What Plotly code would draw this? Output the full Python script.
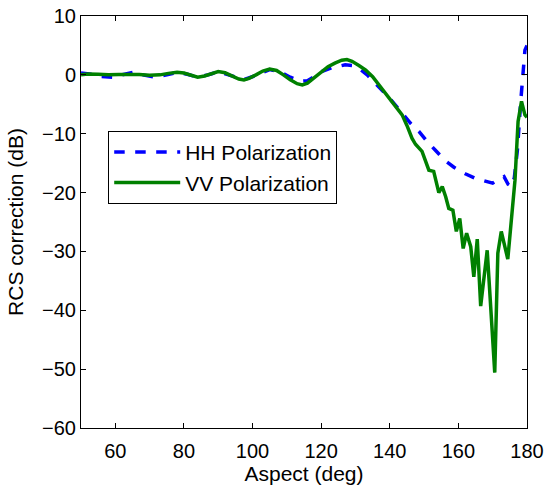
import plotly.graph_objects as go

# HH polarization (dashed blue)
hh_deg = [50, 53, 56, 59.4, 62, 65.3, 68, 71.6, 75, 78.4, 81, 84, 87, 90, 93, 97.4,
          101, 105, 108, 111, 114, 116, 118, 120, 123, 127, 129, 131, 133.4, 136, 138,
          140, 143.6, 146, 148.5, 151, 153.3, 156, 158.7, 162, 165, 168, 170, 171.3,
          173.3, 174.5, 175.5, 176.3, 177.2, 178.2, 178.6, 179.4, 180]
hh_db = [0.3, 0.1, -0.3, -0.4, 0.0, 0.45, 0.0, -0.4, 0.0, 0.45, 0.1, -0.4, 0.0, 0.5, 0.0, -0.8,
         -0.1, 0.9, 0.5, -0.4, -1.1, -1.0, -0.3, 0.5, 1.2, 1.7, 1.6, 1.1, 0.0, -1.5, -2.8,
         -4.0, -6.5, -8.2, -9.6, -11.4, -12.8, -14.5, -15.7, -16.8, -17.6, -18.1, -18.4, -17.9,
         -17.3, -18.6, -19.0, -17.5, -12.8, -4.3, -0.9, 4.2, 5.0]

# VV polarization (solid green)
vv_deg = [50, 52, 55, 58, 61, 64, 67, 70, 73, 75.5, 78, 80, 82, 84, 86, 88, 90, 92, 94, 96,
          97.5, 99, 101, 103, 105, 107, 109, 111, 113, 114.5, 116, 118, 120, 122, 124, 126,
          127.5, 129, 131, 133, 135, 137, 139, 141, 143.6, 145, 146.5, 147.5, 149.4, 151.4,
          152.8, 154.3, 155.3, 156.3, 157.2, 158.4, 159.4, 160.4, 161.4, 162.4, 163.6, 164.5,
          165.5, 166.5, 168.4, 170.6, 171.5, 172.5, 174.4, 176.5, 177.4, 178.4, 179.4, 180]
vv_db = [0.0, 0.15, 0.1, 0.0, 0.05, 0.1, 0.05, -0.05, 0.0, 0.25, 0.45, 0.3, -0.1, -0.4, -0.2,
         0.2, 0.55, 0.35, -0.2, -0.7, -0.85, -0.6, 0.0, 0.65, 1.0, 0.75, 0.0, -0.85, -1.5, -1.7,
         -1.4, -0.5, 0.5, 1.4, 2.0, 2.5, 2.6, 2.3, 1.6, 0.8, -0.3, -1.8, -3.3, -4.9, -6.8, -8.6,
         -10.8, -11.8, -13.0, -16.2, -16.4, -20.0, -19.0, -20.7, -22.7, -23.0, -26.6, -24.4,
         -29.5, -26.9, -29.2, -34.3, -27.9, -39.3, -29.8, -50.6, -30.3, -26.6, -31.3, -17.9,
         -7.9, -4.5, -6.8, -7.2]

x_ticks = [60, 80, 100, 120, 140, 160, 180]
y_ticks = [10, 0, -10, -20, -30, -40, -50, -60]

FONT = "Liberation Sans, Arial, Helvetica, sans-serif"

fig = go.Figure()
fig.add_trace(go.Scatter(x=hh_deg, y=hh_db, mode="lines", name="HH Polarization",
                         legendgroup="hh",
                         line=dict(color="#0000FF", width=3.5, dash="dash")))
fig.add_trace(go.Scatter(x=vv_deg, y=vv_db, mode="lines", name="VV Polarization",
                         legendgroup="vv",
                         line=dict(color="#008000", width=3.5)))

axis_common = dict(showline=True, linecolor="black", linewidth=1, mirror="ticks",
                   ticks="inside", ticklen=5, tickcolor="black", showgrid=False,
                   zeroline=False, automargin=False, ticklabeloverflow="allow",
                   tickfont=dict(family=FONT, size=20, color="black"))

fig.update_xaxes(range=[50, 180], tickvals=x_ticks, ticklabelstandoff=5,
                 title=dict(text="Aspect (deg)", font=dict(family=FONT, size=21, color="black"),
                            standoff=0),
                 **axis_common)
fig.update_yaxes(range=[-60, 10], tickvals=y_ticks,
                 title=dict(text="RCS correction (dB)", font=dict(family=FONT, size=21, color="black"),
                            standoff=12),
                 **axis_common)

fig.update_layout(
    width=546, height=487,
    margin=dict(l=81, r=19, t=16, b=59),
    plot_bgcolor="white", paper_bgcolor="white",
    font=dict(family=FONT, size=20, color="black"),
    legend=dict(x=0.061, y=0.721, xanchor="left", yanchor="top",
                bgcolor="white", bordercolor="black", borderwidth=1,
                font=dict(family=FONT, size=21, color="black"),
                itemwidth=66,
                traceorder="grouped", tracegroupgap=0),
    showlegend=True,
)

# remove the browser's default 8px body margin so the figure fills the window
fig.write_html("out.html", config={"displayModeBar": False},
               post_script="document.body.style.margin='0';document.body.style.overflow='hidden';")
